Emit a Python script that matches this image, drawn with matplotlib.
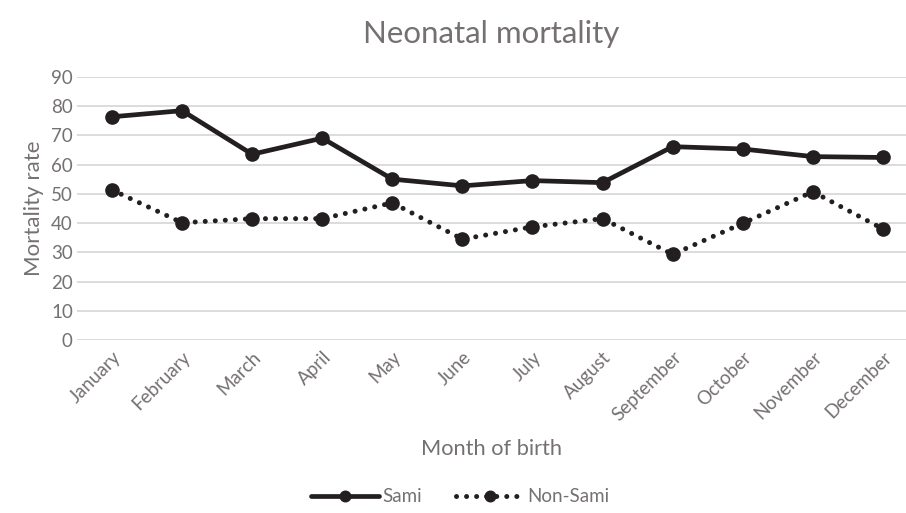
import matplotlib
matplotlib.use("Agg")
import matplotlib.pyplot as plt

months = ["January", "February", "March", "April", "May", "June", "July",
          "August", "September", "October", "November", "December"]
sami = [76.3, 78.4, 63.5, 69.0, 55.0, 52.7, 54.5, 53.8, 66.1, 65.3, 62.7, 62.4]
non_sami = [51.3, 40.1, 41.5, 41.5, 46.9, 34.5, 38.7, 41.5, 29.3, 39.9, 50.7, 38.0]
yticks = [0, 10, 20, 30, 40, 50, 60, 70, 80, 90]

plt.rcParams['font.family'] = ['Lato', 'DejaVu Sans']
txt = '#767171'
lc = '#231F20'

fig = plt.figure(figsize=(9.06, 5.13), dpi=100)
ax = fig.add_axes([0.085, 0.337, 0.915, 0.5135])
x = list(range(len(months)))
ax.plot(x, sami, color=lc, lw=3.4, marker='o', ms=9.5, label='Sami',
        solid_capstyle='round', solid_joinstyle='round')
ax.plot(x, non_sami, color=lc, lw=3.6, marker='o', ms=9.5, label='Non-Sami',
        linestyle=(0, (0.01, 2.0)), dash_capstyle='round')

ax.set_ylim(0, 90)
ax.set_xlim(-0.5, 11.33)
ax.set_yticks(yticks)
ax.set_xticks(x)
ax.set_xticklabels(months, rotation=45, ha='right', rotation_mode='anchor')
ax.tick_params(axis='both', length=0, labelsize=13.5, colors=txt)
ax.tick_params(axis='x', pad=6)
ax.tick_params(axis='y', pad=3)
ax.grid(axis='y', color='#D9D9D9', lw=1.3)
ax.set_axisbelow(True)
for s in ax.spines.values():
    s.set_visible(False)

ax.set_title('Neonatal mortality', fontsize=22.5, color=txt, pad=24)
ax.set_ylabel('Mortality rate', fontsize=16, color=txt, labelpad=5)
ax.set_xlabel('Month of birth', fontsize=15.7, color=txt, labelpad=11)

fig.legend(loc='center', bbox_to_anchor=(0.508, 1 - 497 / 513), ncol=2,
           frameon=False, fontsize=13.5, handlelength=3.6, columnspacing=1.8,
           handletextpad=0.2, labelcolor=txt, markerscale=0.8)

fig.savefig('out.png', dpi=100)
